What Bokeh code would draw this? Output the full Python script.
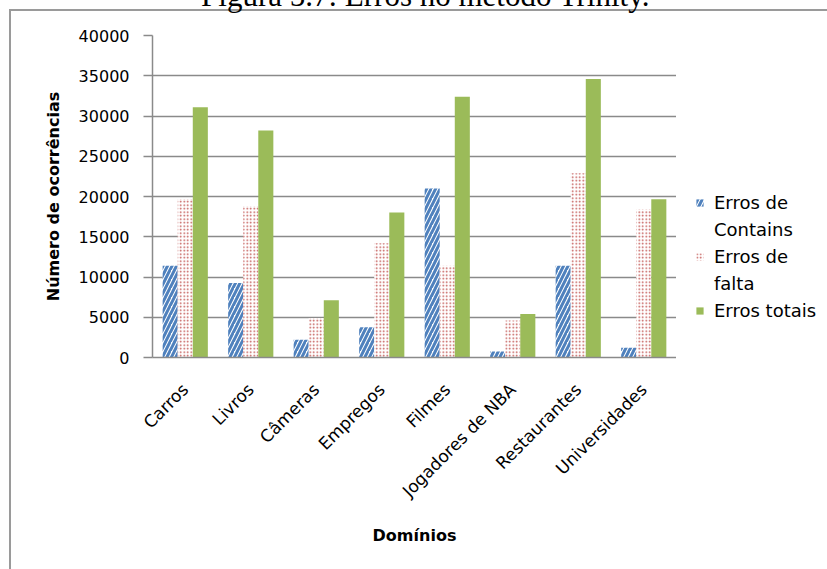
from bokeh.plotting import figure
from bokeh.layouts import row
from bokeh.models import (ColumnDataSource, FactorRange, FixedTicker, Legend, LegendItem,
                          Label)
from bokeh.transform import dodge
from bokeh.embed import file_html
from bokeh.resources import INLINE
import math

# Domains and error counts per domain
dominios = ["Carros", "Livros", "Câmeras", "Empregos", "Filmes",
            "Jogadores de NBA", "Restaurantes", "Universidades"]
erros_contains = [11400, 9250, 2200, 3750, 21000, 750, 11400, 1200]
erros_falta = [19700, 18800, 4900, 14200, 11400, 4600, 22900, 18400]
erros_totais = [31100, 28200, 7100, 18000, 32400, 5400, 34600, 19650]
y_ticks = [0, 5000, 10000, 15000, 20000, 25000, 30000, 35000, 40000]

BLUE = "#4F81BD"
RED = "#C0504D"
GREEN = "#9BBB59"
GRID = "#8a8a8a"
EDGE = "#9a9a9a"
FONT = "DejaVu Sans"

contains_style = dict(fill_color="white", line_color=None, hatch_pattern="right_diagonal_line",
                      hatch_color=BLUE, hatch_scale=9, hatch_weight=3)
falta_style = dict(fill_color="white", line_color=None, hatch_pattern="dot",
                   hatch_color=RED, hatch_scale=3.5, hatch_weight=1.7)
totais_style = dict(fill_color=GREEN, line_color=None)

source = ColumnDataSource(dict(dominio=dominios, contains=erros_contains,
                               falta=erros_falta, totais=erros_totais))

# main chart
p = figure(width=676, height=569, x_range=FactorRange(*dominios), y_range=(0, 40000),
           output_backend="svg", toolbar_location=None,
           min_border_left=152, min_border_right=0, min_border_top=34, min_border_bottom=212)
p.outline_line_color = None
p.background_fill_color = "white"
p.border_fill_color = None
# outer chart border (left and top edges), drawn behind the transparent canvas
p.styles = {
    "background": (f"linear-gradient({EDGE}, {EDGE}) 9px 9px / 2px 100% no-repeat, "
                   f"linear-gradient({EDGE}, {EDGE}) 9px 9px / 100% 2px no-repeat, white"),
}

w = 0.23
p.vbar(x=dodge("dominio", -w, range=p.x_range), top="contains", width=w,
       source=source, **contains_style)
p.vbar(x=dodge("dominio", 0, range=p.x_range), top="falta", width=w,
       source=source, **falta_style)
p.vbar(x=dodge("dominio", w, range=p.x_range), top="totais", width=w,
       source=source, **totais_style)

p.yaxis.ticker = FixedTicker(ticks=y_ticks)
p.ygrid.ticker = FixedTicker(ticks=y_ticks)
p.ygrid.grid_line_color = GRID
p.ygrid.grid_line_width = 1.5
p.xgrid.grid_line_color = None

for ax in (p.xaxis, p.yaxis):
    ax.axis_line_color = GRID
    ax.axis_line_width = 1.5
    ax.major_label_text_font = FONT
    ax.major_label_text_font_size = "16px"
    ax.major_label_text_color = "black"
    ax.axis_label_text_font = FONT
    ax.axis_label_text_font_size = "16px"
    ax.axis_label_text_font_style = "bold"
    ax.axis_label_text_color = "black"
    ax.minor_tick_line_color = None

p.yaxis.major_tick_line_color = GRID
p.yaxis.major_tick_line_width = 1.5
p.yaxis.major_tick_out = 9
p.yaxis.major_tick_in = 0
p.yaxis.major_label_standoff = 14
p.yaxis.axis_label = "Número de ocorrências"
p.yaxis.axis_label_standoff = 13

p.xaxis.major_tick_line_color = None
p.xaxis.major_label_orientation = math.pi / 4
p.xaxis.major_label_text_font_size = "17px"
p.xaxis.major_label_standoff = 23
p.xaxis.axis_label = "Domínios"
p.xaxis.axis_label_standoff = 15

# figure caption, cut by the top edge of the page
p.add_layout(Label(x=425, y=-5, x_units="canvas", y_units="canvas",
                   text="Figura 5.7: Erros no método Trinity.", text_align="center",
                   text_baseline="alphabetic", text_font="Liberation Serif",
                   text_font_size="31px", text_color="black"), "above")

# legend panel to the right of the chart
q = figure(width=151, height=569, x_range=(0, 1), y_range=(0, 1),
           x_axis_type=None, y_axis_type=None, output_backend="svg", toolbar_location=None,
           min_border=0)
q.outline_line_color = None
q.grid.visible = False
q.background_fill_color = None
q.border_fill_color = None
q.styles = {"background": f"linear-gradient({EDGE}, {EDGE}) 0 9px / 100% 2px no-repeat, white"}

swatch = ColumnDataSource(dict(x=[5], top=[5]))
k_contains = q.vbar(x="x", top="top", width=0.5, source=swatch, **contains_style)
k_falta = q.vbar(x="x", top="top", width=0.5, source=swatch, **falta_style)
k_totais = q.vbar(x="x", top="top", width=0.5, source=swatch, **totais_style)
# blank entry used as the second line of wrapped legend labels
k_blank = q.vbar(x="x", top="top", width=0.5, source=swatch, fill_alpha=0, line_alpha=0)

legend = Legend(items=[
    LegendItem(label="Erros de", renderers=[k_contains]),
    LegendItem(label="Contains", renderers=[k_blank]),
    LegendItem(label="Erros de", renderers=[k_falta]),
    LegendItem(label="falta", renderers=[k_blank]),
    LegendItem(label="Erros totais", renderers=[k_totais]),
], location=(19, 36))
legend.padding = 0
legend.margin = 0
legend.spacing = 6
legend.label_height = 20
legend.glyph_width = 9
legend.glyph_height = 9
legend.label_standoff = 10
legend.label_text_font = FONT
legend.label_text_font_size = "18px"
legend.label_text_color = "black"
legend.background_fill_alpha = 0
legend.border_line_color = None
q.add_layout(legend)

open("out.html", "w").write(file_html(row(p, q), INLINE))
